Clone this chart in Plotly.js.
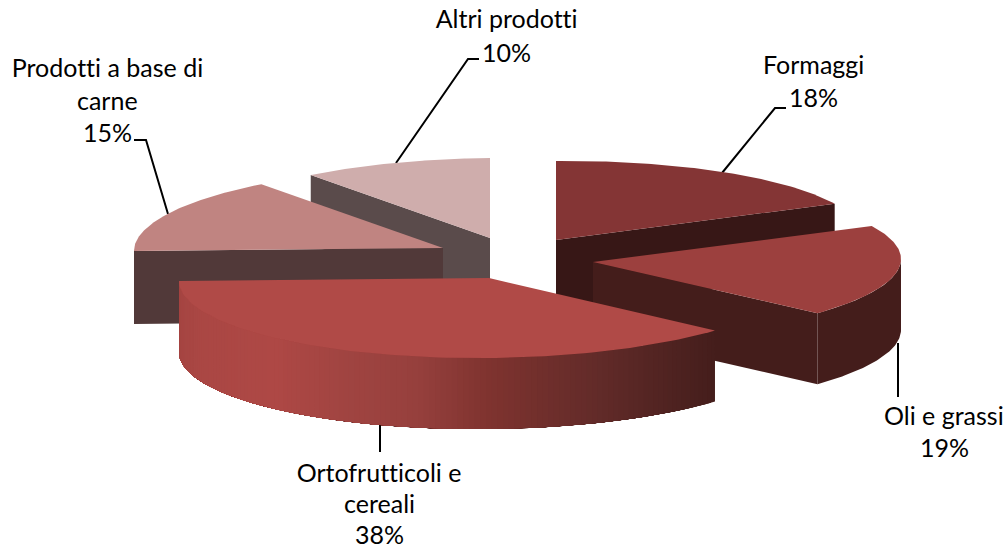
<!DOCTYPE html>
<html>
<head>
<meta charset="utf-8">
<script src="https://cdn.plot.ly/plotly-3.0.1.min.js"></script>
<style>
html,body{margin:0;padding:0;background:#fff}
#chart{width:1005px;height:550px}
#chart text{font-variant-ligatures:none;font-feature-settings:"liga" 0}
</style>
</head>
<body>
<div id="chart"></div>
<script>
// Data
const categories = ['Formaggi', 'Oli e grassi', 'Ortofrutticoli e cereali', 'Prodotti a base di carne', 'Altri prodotti'];
const shares = [18, 19, 38, 15, 10];

// Styles
const topColors = ['#843535', '#9C403E', '#B04A47', '#C08481', '#CFADAC'];
const sideColors = ['#371716', '#441D1B', null, '#513939', '#5A4B4B'];
const wallStopX = [180, 200, 277, 350, 420, 491, 600, 713];
const wallStopR = [165, 170, 174, 160, 150, 127, 98, 69];
const wallStopG = [69, 71, 72, 68, 64, 51, 43, 30];
const wallStopB = [66, 68, 69, 65, 61, 47, 41, 28];

// Layout of the exploded pie, in picture pixels
const centreX = [556, 593, 489, 443, 490];
const centreY = [240, 262, 278, 248, 238];
const radiusX = [308, 308, 310, 309, 305];
const radiusY = [79, 78, 80, 81, 80];
const depth = [70, 71, 71, 73, 70];
const tilt = 3;
const drawOrder = [4, 3, 0, 1, 2];

const total = shares.reduce((a, b) => a + b, 0);
const startAngle = [];
shares.reduce((acc, v, i) => { startAngle[i] = acc / total * 2 * Math.PI; return acc + v; }, 0);
const endAngle = startAngle.map((a, i) => a + shares[i] / total * 2 * Math.PI);

function rim(i, t) {
  return [centreX[i] + radiusX[i] * Math.sin(t),
          centreY[i] - radiusY[i] * Math.cos(t) - tilt * Math.sin(t)];
}
function arc(i, a, b, n) {
  const pts = [];
  for (let k = 0; k <= n; k++) pts.push(rim(i, a + (b - a) * k / n));
  return pts;
}
function poly(pts, color) {
  return {
    type: 'scatter', mode: 'lines', hoverinfo: 'skip', showlegend: false,
    x: pts.map(p => p[0]), y: pts.map(p => p[1]),
    fill: 'toself', fillcolor: color,
    line: {color: color, width: 0}
  };
}
function down(pts, d) { return pts.map(p => [p[0], p[1] + d]); }
function wallColor(x) {
  let k = 0;
  while (k < wallStopX.length - 2 && x > wallStopX[k + 1]) k++;
  const f = Math.max(0, Math.min(1, (x - wallStopX[k]) / (wallStopX[k + 1] - wallStopX[k])));
  const mix = s => Math.round(s[k] + (s[k + 1] - s[k]) * f);
  return `rgb(${mix(wallStopR)},${mix(wallStopG)},${mix(wallStopB)})`;
}

const traces = [];
drawOrder.forEach(i => {
  const a = startAngle[i], b = endAngle[i];
  const apex = [centreX[i], centreY[i]];
  const side = sideColors[i];
  const cutFace = t => {
    const r = rim(i, t);
    traces.push(poly([apex, r, [r[0], r[1] + depth[i]], [apex[0], apex[1] + depth[i]]], side));
  };

  // Cut faces that look towards the viewer
  if (b < Math.PI && Math.sin(b) > 0) cutFace(b);
  if (side && Math.sin(a) < 0 && Math.cos(a) > -0.01) cutFace(a);

  // Outer wall on the front half of the ellipse
  const wa = Math.max(a, Math.PI / 2), wb = Math.min(b, Math.PI * 1.5);
  if (wb > wa) {
    if (side) {
      const top = arc(i, wa, wb, 60);
      traces.push(poly(top.concat(down(top, depth[i]).reverse()), side));
    } else {
      // Gradient: overlapping bands laid from the right end to the left, so no seams show
      const n = 130;
      for (let k = 0; k < n; k++) {
        const t0 = wa + (wb - wa) * k / n;
        const band = arc(i, t0, wb, Math.max(2, 60 - Math.round(50 * k / n)));
        traces.push(poly(band.concat(down(band, depth[i]).reverse()), wallColor(rim(i, t0)[0])));
      }
    }
  }
  // Top face
  traces.push(poly([apex].concat(arc(i, a, b, 90)), topColors[i]));
});

// Labels: one annotation per text line so that the line pitch can be set
const labelLines = [
  [categories[0], shares[0] + '%'],
  [categories[1], shares[1] + '%'],
  ['Ortofrutticoli e', 'cereali', shares[2] + '%'],
  ['Prodotti a base di', 'carne', shares[3] + '%'],
  [categories[4], shares[4] + '%']
];
const labelCentreX = [813, 944, 379, 107, 506];
const labelFirstY = [64, 415, 472, 67, 18];
const labelPitch = [33, 32, 31, 32.5, 34];
const annotations = [];
labelLines.forEach((lines, i) => lines.forEach((text, j) => {
  annotations.push({
    x: labelCentreX[i], y: labelFirstY[i] + j * labelPitch[i], xref: 'x', yref: 'y',
    text: text, showarrow: false, xanchor: 'center', yanchor: 'middle', borderpad: 0,
    font: {family: 'Lato, "Open Sans", sans-serif', size: 25, color: '#000'}
  });
}));

// Leader lines
const leaderPaths = [
  'M722,173 L775,108 L786,108',
  'M898,343 L898,397',
  'M380,424 L380,452',
  'M168,214 L146,140 L134,140',
  'M396,163 L468,59 L479,59'
];
const shapes = leaderPaths.map(path => ({
  type: 'path', xref: 'x', yref: 'y', path: path, layer: 'below',
  line: {color: '#000', width: 2}
}));

const layout = {
  width: 1005, height: 550,
  margin: {l: 0, r: 0, t: 0, b: 0},
  paper_bgcolor: '#fff', plot_bgcolor: '#fff',
  showlegend: false, hovermode: false,
  xaxis: {range: [0, 1005], visible: false, fixedrange: true},
  yaxis: {range: [550, 0], visible: false, fixedrange: true},
  annotations: annotations,
  shapes: shapes
};
Plotly.newPlot('chart', traces, layout, {displayModeBar: false, staticPlot: true});
</script>
</body>
</html>
